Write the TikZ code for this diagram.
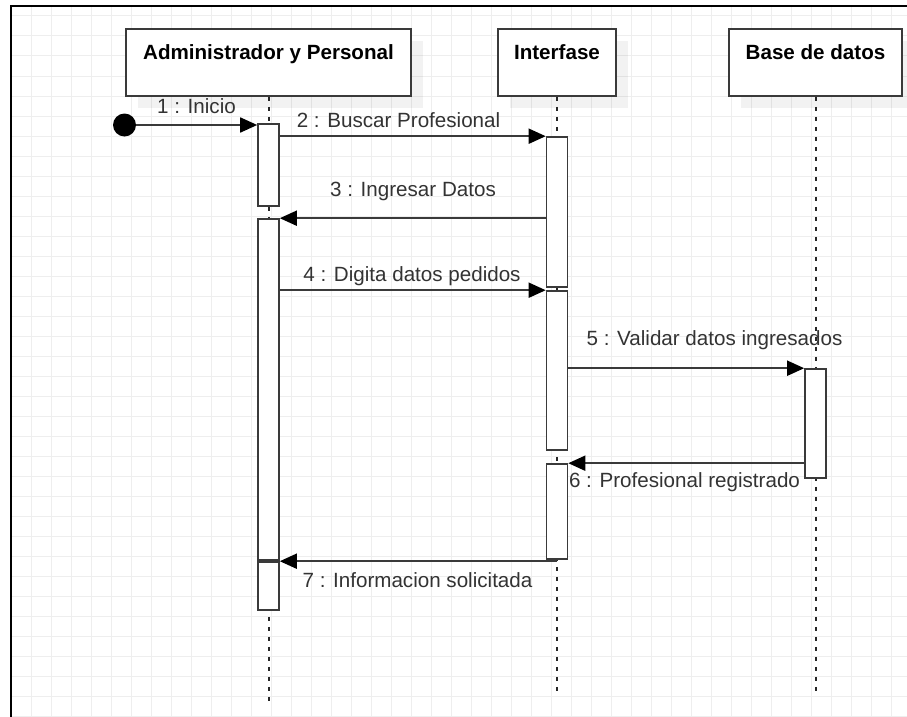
\documentclass[tikz,border=0pt]{standalone}
\usepackage{fontspec}
\setmainfont{Liberation Sans}
\usetikzlibrary{arrows.meta,shadows}
\definecolor{GridGray}{HTML}{EEEEEE}
\definecolor{LineGray}{HTML}{3A3A3A}
\colorlet{TextGray}{black!80}

\tikzset{
  head/.style={draw=LineGray, line width=1.6pt, fill=white, minimum height=67pt, inner sep=0pt,
    font=\bfseries\fontsize{20.6}{24}\selectfont, text height=15pt, text depth=21pt,
    drop shadow={shadow xshift=11.5pt, shadow yshift=-12pt, fill=black, opacity=0.05}},
  act/.style={draw=LineGray, line width=1.6pt, fill=white, minimum width=21pt, inner sep=0pt},
  life/.style={black!85, line width=2pt, dash pattern=on 4pt off 6pt},
  msg/.style={draw=LineGray, line width=1.8pt, -{Triangle[length=17pt,width=15pt,color=black]}},
  lbl/.style={font=\fontsize{20.6}{24}\selectfont, text=TextGray, inner sep=0pt, anchor=base},
}

\begin{document}
\begin{tikzpicture}[x=1pt,y=-1pt]
    \useasboundingbox (0,0) rectangle (907,717);
    \fill[white] (0,0) rectangle (907,717);
    \foreach \x in {31,51,...,907} {
        \draw[GridGray, line width=1pt] (\x,6) -- (\x,717);
    }
    \foreach \y in {16,36,...,717} {
        \draw[GridGray, line width=1pt] (11,\y) -- (907,\y);
    }
    \draw[line width=2pt] (11,717) -- (11,6) -- (907,6);

    % heads and lifelines
    \node[head, minimum width=285pt] (adm) at (268.5,62.5) {Administrador y Personal};
    \node[head, minimum width=118pt] (ifz) at (557,62.5) {Interfase};
    \node[head, minimum width=173pt] (bd) at (815.5,62.5) {Base de datos};
    \coordinate (admEnd) at (268.5,703);
    \coordinate (ifzEnd) at (557,693);
    \coordinate (bdEnd) at (815.5,692);
    \draw[life] (adm.south) -- (admEnd);
    \draw[life] (ifz.south) -- (ifzEnd);
    \draw[life] (bd.south) -- (bdEnd);

    % activations
    \node[act, minimum height=82pt] (adm1) at (268.5,165) {};
    \node[act, minimum height=341pt] (adm2) at (268.5,389.5) {};
    \node[act, minimum height=48pt] (adm3) at (268.5,586) {};
    \node[act, minimum height=150pt] (ifz1) at (557,212) {};
    \node[act, minimum height=159pt] (ifz2) at (557,370.5) {};
    \node[act, minimum height=95pt] (ifz3) at (557,511.5) {};
    \node[act, minimum height=109pt] (bd1) at (815.5,423.5) {};

    % messages
    \node[circle, fill=black, minimum size=23pt, inner sep=0pt] (start) at (124.5,125) {};
    \draw[msg] (start) -- (start -| adm1.west);
    \draw[msg] (adm1.east |- ifz1.north) -- (ifz1.north west);
    \draw[msg] (ifz1.west |- adm2.north) -- (adm2.north east);
    \draw[msg] (adm2.east |- ifz2.north) -- (ifz2.north west);
    \draw[msg] (ifz2.east |- bd1.north) -- (bd1.north west);
    \draw[msg] (bd1.west |- ifz3.north) -- (ifz3.north east);
    \draw[msg] (ifz.south |- adm3.north) -- (adm3.north east);

    \node[lbl] (m1) at (196.5,113) {1 : Inicio};
    \node[lbl] (m2) at (398.5,127) {2 : Buscar Profesional};
    \node[lbl] (m3) at (413,196.5) {3 : Ingresar Datos};
    \node[lbl] (m4) at (412,281) {4 : Digita datos pedidos};
    \node[lbl] (m5) at (714.5,345) {5 : Validar datos ingresados};
    \node[lbl] (m6) at (684.5,487) {6 : Profesional registrado};
    \node[lbl] (m7) at (417.5,587) {7 : Informacion solicitada};
\end{tikzpicture}
\end{document}
